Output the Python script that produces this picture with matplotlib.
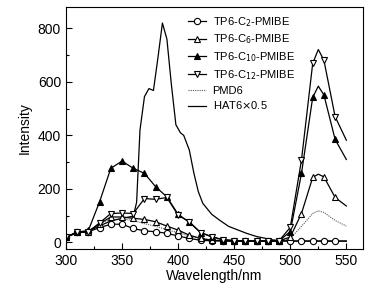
import numpy as np
import matplotlib
matplotlib.use("Agg")
import matplotlib.pyplot as plt

plt.rcParams['font.family'] = ['Liberation Sans', 'DejaVu Sans']

# wavelengths (nm) for marker series; 525 and 550 are line-only points
wl = [300, 310, 320, 330, 340, 350, 360, 370, 380, 390, 400, 410, 420, 430,
      440, 450, 460, 470, 480, 490, 500, 510, 520, 525, 530, 540, 550]

c2 = [20, 38, 40, 55, 68, 68, 52, 43, 40, 34, 24, 15, 8, 6,
      5, 5, 5, 5, 5, 5, 5, 5, 5, 5, 5, 5, 5]
c6 = [20, 38, 40, 70, 95, 95, 90, 86, 77, 61, 46, 27, 15, 8,
      6, 5, 5, 5, 5, 6, 20, 108, 243, 255, 245, 168, 136]
c10 = [20, 38, 45, 152, 277, 304, 277, 258, 208, 170, 105, 75, 37, 21,
       10, 7, 5, 5, 5, 6, 40, 258, 542, 584, 551, 385, 310]
c12 = [20, 38, 40, 73, 108, 110, 108, 164, 161, 168, 102, 77, 37, 21,
       10, 7, 5, 5, 5, 6, 56, 308, 669, 721, 681, 470, 382]

# PMD6 (dotted)
pmd_wl = [300, 310, 320, 330, 340, 350, 360, 370, 380, 390, 400, 410, 420, 440,
          460, 480, 490, 500, 510, 520, 525, 530, 540, 550]
pmd = [20, 36, 42, 70, 85, 88, 82, 70, 60, 48, 36, 24, 14, 7,
       5, 5, 6, 15, 60, 108, 118, 112, 82, 61]

# HAT6 x 0.5 (solid, no markers)
hat_wl = [300, 310, 320, 330, 340, 350, 360, 363, 366, 370, 374, 378, 382, 386,
          390, 394, 398, 402, 405, 410, 414, 418, 422, 430, 437, 445, 461, 470,
          485, 500, 510, 520, 530, 540, 550]
hat = [20, 35, 42, 62, 80, 90, 98, 150, 420, 545, 575, 568, 690, 820,
       760, 590, 440, 410, 400, 345, 260, 190, 146, 105, 83, 60, 34, 22,
       9, 5, 5, 5, 5, 5, 5]

mk_idx = [i for i, w in enumerate(wl) if w % 10 == 0 and w < 550]

fig = plt.figure(figsize=(3.88, 2.91), dpi=100)
ax = fig.add_axes([0.170, 0.144, 0.766, 0.832])

ax.plot(pmd_wl, pmd, color='0.35', lw=0.8, ls=(0, (1, 1)), label='PMD6')
ax.plot(hat_wl, hat, color='black', lw=0.9, label=r'HAT6$\times$0.5')
ms = 4.5
ax.plot(wl, c2, 'k-', lw=0.9, marker='o', ms=ms, mfc='white', mec='black',
        mew=0.8, markevery=mk_idx, label='TP6-C$_2$-PMIBE')
ax.plot(wl, c6, 'k-', lw=0.9, marker='^', ms=ms, mfc='white', mec='black',
        mew=0.8, markevery=mk_idx, label='TP6-C$_6$-PMIBE')
ax.plot(wl, c10, 'k-', lw=0.9, marker='^', ms=ms, mfc='black', mec='black',
        mew=0.8, markevery=mk_idx, label='TP6-C$_{10}$-PMIBE')
ax.plot(wl, c12, 'k-', lw=0.9, marker='v', ms=ms, mfc='white', mec='black',
        mew=0.8, markevery=mk_idx, label='TP6-C$_{12}$-PMIBE')

ax.set_xlim(300, 565)
ax.set_ylim(-25, 880)
ax.set_xticks([300, 350, 400, 450, 500, 550])
ax.set_xticks([325, 375, 425, 475, 525], minor=True)
ax.set_yticks([0, 200, 400, 600, 800])
ax.set_yticks([100, 300, 500, 700], minor=True)
ax.tick_params(direction='in', labelsize=10, length=4, width=0.8)
ax.tick_params(which='minor', direction='in', length=2.5, width=0.8)
for s in ax.spines.values():
    s.set_linewidth(0.8)
ax.set_xlabel('Wavelength/nm', fontsize=10, labelpad=1)
ax.set_ylabel('Intensity', fontsize=10, labelpad=4)

h, l = ax.get_legend_handles_labels()
order = [2, 3, 4, 5, 0, 1]
ax.legend([h[i] for i in order], [l[i] for i in order], loc='upper left',
          bbox_to_anchor=(0.385, 1.0), frameon=False, fontsize=8,
          handlelength=1.6, handletextpad=0.6, labelspacing=0.35,
          borderaxespad=0.3)

fig.savefig('out.png', dpi=100)
